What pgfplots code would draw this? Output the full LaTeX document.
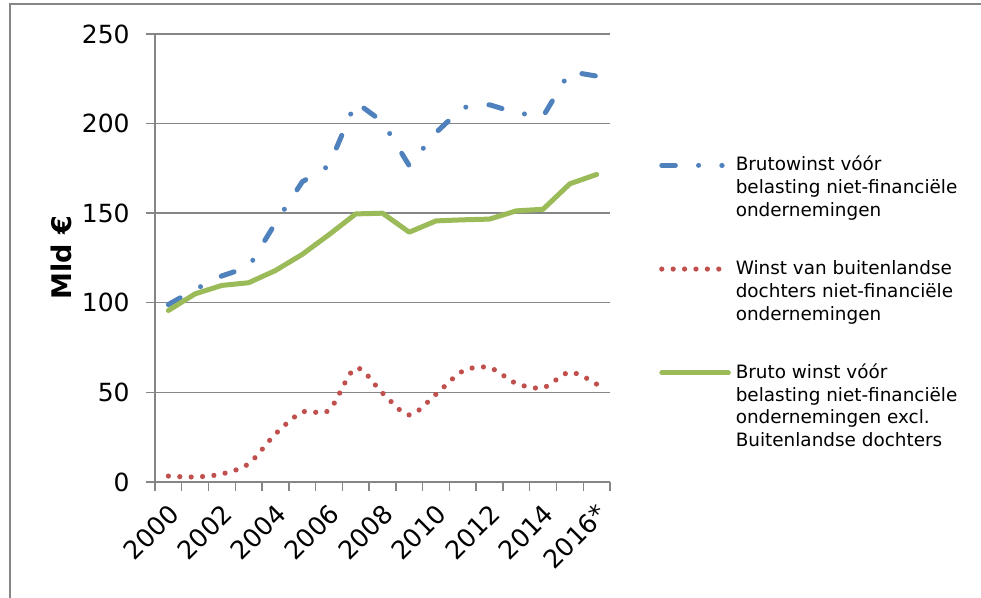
\documentclass[border=0pt]{standalone}
\usepackage{pgfplots}
\pgfplotsset{compat=1.18}
\usepackage{fontspec}
\setmainfont{DejaVu Sans}
\definecolor{sblue}{HTML}{4F81BD}
\definecolor{sred}{HTML}{C0504D}
\definecolor{sgreen}{HTML}{9BBB59}
\definecolor{gridgray}{HTML}{868686}
\pgfplotsset{bluelegend/.style={legend image code/.code={\draw[##1] (0pt,2.8pt) -- (30.2pt,2.8pt);}}}
\newcommand{\lent}[1]{\begin{tabular}[t]{@{}l@{}}#1\end{tabular}}
\begin{document}
\begin{tikzpicture}
\useasboundingbox (0,0) rectangle (490.5pt,299pt);
\draw[gridgray, line width=0.9pt] (5pt,0pt) -- (5pt,297pt) -- (490.5pt,297pt);
\begin{axis}[
  at={(77.5pt,58pt)}, anchor=south west,
  scale only axis, width=227.5pt, height=224pt,
  xmin=-0.5, xmax=16.5, ymin=0, ymax=250,
  axis lines=left,
  axis line style={-, draw=gridgray, line width=0.7pt},
  xtick={-0.5,0.5,...,16.5}, xticklabels={},
  extra x ticks={0,2,4,6,8,10,12,14,16},
  extra x tick labels={2000,2002,2004,2006,2008,2010,2012,2014,2016*},
  extra x tick style={major tick length=0pt,
    tick label style={font=\fontsize{12.7}{14}\selectfont, inner sep=0pt, xshift=3pt, yshift=-13.5pt, rotate=45, anchor=east}},
  ytick={0,50,...,250},
  yticklabel style={font=\fontsize{12.5}{14}\selectfont, inner sep=0pt, xshift=-8pt},
  /pgf/number format/assume math mode=true,
  scaled y ticks=false,
  ymajorgrids,
  grid style={draw=gridgray, line width=0.7pt},
  tick style={draw=gridgray, line width=0.7pt},
  major tick length=4.5pt,
  tick align=outside,
  ylabel={\textbf{Mld €}},
  ylabel style={font=\fontsize{13.5}{15}\selectfont, at={(axis description cs:-0.2066,0.5)}, anchor=center, rotate=0},
  legend style={at={(1.1081,0.7297)}, anchor=north west, draw=none, fill=none,
    font=\fontsize{9.2}{11.35}\selectfont, inner sep=0pt, outer sep=0pt,
    row sep=42.4pt, column sep=2.4pt,
    nodes={inner sep=0pt, anchor=base west},
    cells={anchor=base west}},
  legend image code/.code={\draw[#1] (0pt,2.8pt) -- (33.3pt,2.8pt);},
]
\addplot[sblue, line width=2.5pt, line cap=round, line join=round,
  dash pattern=on 6.8pt off 11.6pt on 0pt off 11.6pt, bluelegend]
  coordinates {(0,99) (1,107.5) (2,115) (3,120) (4,144.5) (5,167.5) (6,176.5) (7,212) (8,201) (9,176.5) (10,195) (11,209) (12,210.5) (13,206) (14,204) (15,229) (16,226.5)};
\addlegendentry{\lent{Brutowinst vóór\\belasting niet-financiële\\ondernemingen}}
\addplot[sred, line width=2.6pt, line cap=round, smooth, tension=0.5,
  dash pattern=on 0pt off 5.7pt]
  coordinates {(0,3.3) (1,2.8) (2,4.5) (3,10.2) (4,26.8) (5,39) (6,40) (7,63.6) (8,49.6) (9,37.4) (10,49) (11,61.9) (12,63.8) (13,55) (14,52.6) (15,61.3) (16,54.6)};
\addlegendentry{\lent{Winst van buitenlandse\\dochters niet-financiële\\ondernemingen}}
\addplot[sgreen, line width=2.5pt, line cap=round, line join=round]
  coordinates {(0,95.7) (1,105) (2,109.7) (3,111.2) (4,118) (5,127) (6,138) (7,149.6) (8,150) (9,139.4) (10,145.7) (11,146.3) (12,146.7) (13,151.3) (14,152.2) (15,166.4) (16,171.6)};
\addlegendentry{\lent{Bruto winst vóór\\belasting niet-financiële\\ondernemingen excl.\\Buitenlandse dochters}}
\end{axis}
\end{tikzpicture}
\end{document}
